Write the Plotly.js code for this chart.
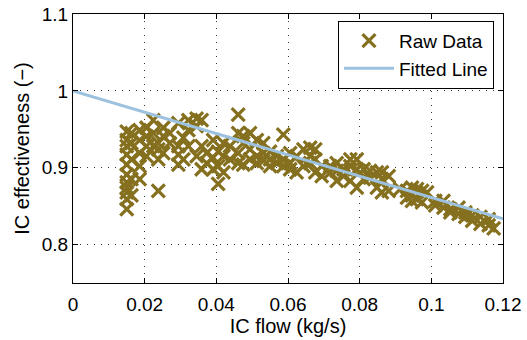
<!DOCTYPE html>
<html><head><meta charset="utf-8">
<script src="https://cdn.plot.ly/plotly-3.0.1.min.js"></script>
<style>body{margin:0;background:#fff}#c{width:527px;height:340px}</style>
</head><body><div id="c"></div>
<script>
const rawX = [
0.015,0.015,0.015,0.015,0.015,0.015,0.015,0.015,0.015,0.015,0.015,
0.0163,0.0163,0.0163,0.0163,0.0163,
0.0186,0.0186,0.0186,0.0186,0.0186,
0.0205,0.0205,0.0205,0.0205,
0.0224,0.0224,0.0224,
0.0238,0.0238,0.0238,0.0238,
0.0252,0.0252,0.0252,
0.027,0.027,
0.0294,0.0294,0.0294,0.0294,
0.0308,0.0308,
0.0322,0.0322,0.0322,
0.0345,0.0345,0.0345,
0.0359,0.0359,0.0359,
0.0373,0.0373,
0.0391,0.0391,0.0391,
0.0405,0.0405,0.0405,
0.042,0.042,0.042,
0.0438,0.0438,
0.0461,0.0461,0.0461,0.0461,
0.0475,0.0475,0.0475,
0.0494,0.0494,0.0494,
0.0513,0.0513,0.0513,
0.0531,0.0531,0.0531,
0.055,0.055,0.055,
0.0569,0.0569,
0.0587,0.0587,0.0587,
0.0606,0.0606,0.0606,
0.0624,0.0624,
0.0643,0.0643,
0.0662,0.0662,0.0662,
0.0676,0.0676,0.0676,
0.0694,0.0694,
0.0718,0.0718,
0.0736,0.0736,0.0736,
0.0755,0.0755,
0.0774,0.0774,0.0774,
0.0792,0.0792,0.0792,
0.0811,0.0811,
0.0829,0.0829,
0.0848,0.0848,
0.0862,0.0862,0.0862,
0.0881,0.0881,
0.0913,
0.0932,0.0932,
0.0946,0.0946,0.0946,
0.096,0.096,
0.0974,0.0974,
0.0988,
0.1011,0.1011,
0.1034,0.1034,
0.1053,0.1053,
0.1076,0.1076,
0.1095,0.1095,
0.1114,0.1114,
0.1137,0.1137,
0.116,0.116,
0.1174
];
const rawY = [
0.846,0.859,0.868,0.874,0.881,0.891,0.904,0.917,0.928,0.936,0.947,
0.864,0.885,0.911,0.932,0.945,
0.885,0.902,0.919,0.936,0.949,
0.915,0.928,0.941,0.952,
0.962,0.945,0.928,
0.870,0.911,0.924,0.932,
0.919,0.941,0.952,
0.945,0.932,
0.958,0.928,0.917,0.904,
0.939,0.911,
0.962,0.949,0.928,
0.964,0.954,0.915,
0.962,0.898,0.928,
0.919,0.906,
0.913,0.936,0.898,
0.879,0.921,0.902,
0.932,0.915,0.894,
0.928,0.911,
0.969,0.945,0.919,0.906,
0.941,0.932,0.904,
0.945,0.924,0.911,
0.936,0.915,0.906,
0.932,0.919,0.909,
0.921,0.911,0.902,
0.915,0.906,
0.943,0.911,0.902,
0.919,0.906,0.898,
0.915,0.894,
0.924,0.902,
0.926,0.915,0.906,
0.924,0.894,0.911,
0.902,0.889,
0.902,0.894,
0.906,0.883,0.896,
0.898,0.889,
0.911,0.902,0.883,
0.911,0.898,0.874,
0.898,0.885,
0.896,0.887,
0.894,0.874,
0.894,0.885,0.868,
0.889,0.870,
0.872,
0.870,0.861,
0.874,0.864,0.857,
0.872,0.859,
0.870,0.855,
0.868,
0.857,0.851,
0.857,0.848,
0.846,0.842,
0.848,0.840,
0.842,0.836,
0.838,0.831,
0.836,0.827,
0.825,0.833,
0.821
];
const fitX = [0, 0.12];
const fitY = [1.0, 0.8335];
const xTicks = [0, 0.02, 0.04, 0.06, 0.08, 0.1, 0.12];
const xTickText = ['0','0.02','0.04','0.06','0.08','0.1','0.12'];
const yTicks = [0.8, 0.9, 1, 1.1];
const yTickText = ['0.8','0.9','1','1.1'];

const fam = 'Liberation Sans, Arial, sans-serif';
const tickFont = {family: fam, size: 19, color: '#000'};
const titleFont = {family: fam, size: 20, color: '#000'};
const legendFont = {family: fam, size: 19, color: '#000'};
const axisCommon = {
  showline: true, linecolor: '#000', linewidth: 1, mirror: 'ticks',
  ticks: 'inside', ticklen: 5, tickcolor: '#000',
  showgrid: true, gridcolor: '#333', griddash: '1px,6px', gridwidth: 1,
  zeroline: false, tickfont: tickFont
};
const data = [
  {x: rawX, y: rawY, type: 'scatter', mode: 'markers', name: 'Raw Data',
   marker: {symbol: 'x-thin-open', size: 13, color: '#85701f', line: {width: 3.2, color: '#85701f'}}},
  {x: fitX, y: fitY, type: 'scatter', mode: 'lines', name: 'Fitted Line',
   line: {color: '#9cc2df', width: 3}}
];
const layout = {
  width: 527, height: 340,
  margin: {l: 73, r: 24, t: 14, b: 57},
  paper_bgcolor: '#fff', plot_bgcolor: '#fff',
  font: titleFont,
  showlegend: true,
  legend: {x: 0.979, y: 0.975, xanchor: 'right', yanchor: 'top',
           bgcolor: '#fff', bordercolor: '#000', borderwidth: 1,
           font: legendFont, itemwidth: 50, tracegroupgap: 0},
  xaxis: Object.assign({}, axisCommon, {range: [0, 0.12], tickvals: xTicks, ticktext: xTickText,
    ticklabelstandoff: 4,
    title: {text: 'IC flow (kg/s)', font: titleFont, standoff: 2}}),
  yaxis: Object.assign({}, axisCommon, {range: [0.75, 1.1], tickvals: yTicks, ticktext: yTickText,
    title: {text: 'IC effectiveness (\u2212)', font: titleFont, standoff: 6}})
};
Plotly.newPlot('c', data, layout, {displayModeBar: false, staticPlot: true});
</script></body></html>
